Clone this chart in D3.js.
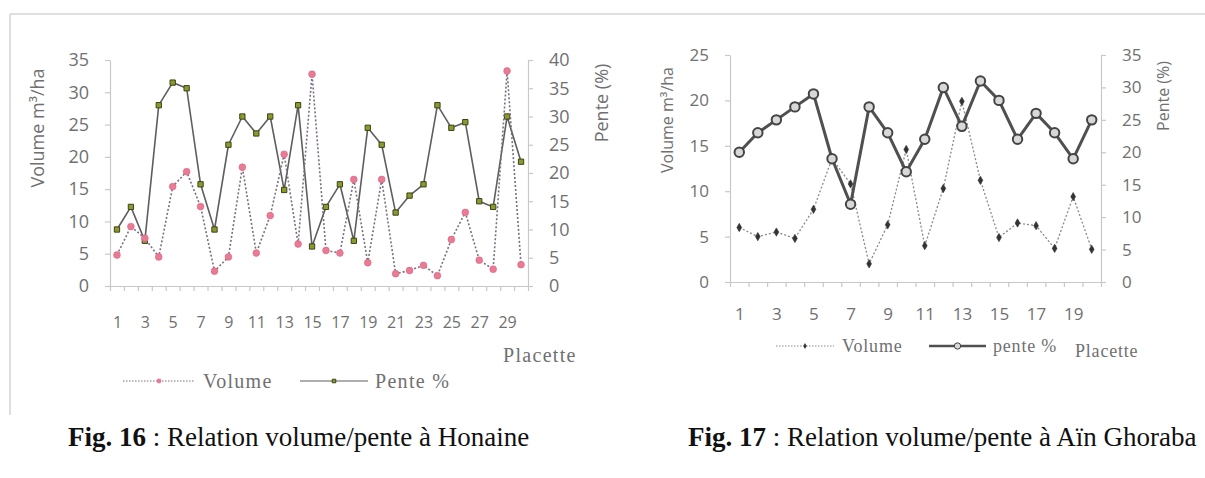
<!DOCTYPE html>
<html>
<head>
<meta charset="utf-8">
<script src="https://cdn.jsdelivr.net/npm/d3@7"></script>
<style>
  html, body { margin: 0; padding: 0; background: #fff; }
  svg { display: block; }
</style>
</head>
<body>
<svg id="chart" width="1205" height="478"></svg>
<script>
// ---------- Data ----------
// Fig. 16 – Honaine (30 placettes)
const honainePlacettes = d3.range(1, 31);
const honaineVolume = [4.8, 9.2, 7.4, 4.5, 15.4, 17.7, 12.3, 2.3, 4.5, 18.4,
                       5.1, 10.9, 20.4, 6.5, 32.8, 5.5, 5.1, 16.5, 3.6, 16.5,
                       1.9, 2.4, 3.2, 1.6, 7.2, 11.4, 4.0, 2.6, 33.3, 3.3];
const honainePente = [10, 14, 8, 32, 36, 35, 18, 10, 25, 30,
                      27, 30, 17, 32, 7, 14, 18, 8, 28, 25,
                      13, 16, 18, 32, 28, 29, 15, 14, 30, 22];
const honaineVolTicks = [0, 5, 10, 15, 20, 25, 30, 35];
const honainePenteTicks = [0, 5, 10, 15, 20, 25, 30, 35, 40];
const honaineXLabels = [1, 3, 5, 7, 9, 11, 13, 15, 17, 19, 21, 23, 25, 27, 29];

// Fig. 17 – Aïn Ghoraba (20 placettes)
const ghorabaPlacettes = d3.range(1, 21);
const ghorabaVolume = [6.0, 5.0, 5.5, 4.8, 8.0, 13.6, 10.8, 2.0, 6.3, 14.6,
                       4.0, 10.3, 19.9, 11.2, 4.9, 6.5, 6.2, 3.7, 9.4, 3.6];
const ghorabaPente = [20, 23, 25, 27, 29, 19, 12, 27, 23, 17,
                      22, 30, 24, 31, 28, 22, 26, 23, 19, 25];
const ghorabaVolTicks = [0, 5, 10, 15, 20, 25];
const ghorabaPenteTicks = [0, 5, 10, 15, 20, 25, 30, 35];
const ghorabaXLabels = [1, 3, 5, 7, 9, 11, 13, 15, 17, 19];

const svg = d3.select("#chart");

// faint page frame
svg.append("line").attr("x1", 10).attr("x2", 1205).attr("y1", 14).attr("y2", 14)
  .attr("stroke", "#d4d4d4").attr("stroke-width", 1.5);
svg.append("line").attr("x1", 10).attr("x2", 10).attr("y1", 14).attr("y2", 415)
  .attr("stroke", "#d4d4d4").attr("stroke-width", 1.5);

const tickFont = "'Open Sans', sans-serif";
const serif = "'Liberation Serif', 'Times New Roman', serif";
const axisGray = "#c8c8c8";
const textGray = "#707070";

function drawChart(cfg) {
  const g = svg.append("g");
  const n = cfg.placettes.length;
  const x = d3.scaleLinear().domain([0.5, n + 0.5]).range([cfg.x0, cfg.x1]);
  const yL = d3.scaleLinear().domain([0, d3.max(cfg.volTicks)]).range([cfg.yBottom, cfg.yTop]);
  const yR = d3.scaleLinear().domain([0, d3.max(cfg.penteTicks)]).range([cfg.yBottom, cfg.yTop]);

  // x axis: boundary ticks
  const xa = g.append("g").attr("transform", `translate(0,${cfg.yBottom})`)
    .call(d3.axisBottom(x).tickValues(d3.range(0.5, n + 1, 1)).tickFormat("").tickSize(5).tickSizeOuter(0));
  // x labels
  const xl = g.append("g").attr("transform", `translate(0,${cfg.yBottom})`)
    .call(d3.axisBottom(x).tickValues(cfg.xLabels).tickFormat(d3.format("d")).tickSize(0).tickPadding(cfg.xPad));
  xl.select(".domain").remove();
  xl.selectAll("text").attr("font-family", tickFont).attr("font-size", cfg.xFont).attr("fill", textGray);

  // left axis
  const la = g.append("g").attr("transform", `translate(${cfg.x0},0)`)
    .call(d3.axisLeft(yL).tickValues(cfg.volTicks).tickSize(5).tickSizeOuter(0).tickPadding(cfg.yPad));
  la.selectAll("text").attr("font-family", tickFont).attr("font-size", cfg.yFont).attr("fill", textGray);
  // right axis
  const ra = g.append("g").attr("transform", `translate(${cfg.x1},0)`)
    .call(d3.axisRight(yR).tickValues(cfg.penteTicks).tickSize(5).tickSizeOuter(0).tickPadding(cfg.yPad));
  ra.selectAll("text").attr("font-family", tickFont).attr("font-size", cfg.yFont).attr("fill", textGray);

  [xa, la, ra].forEach(a => {
    a.select(".domain").attr("stroke", axisGray).attr("stroke-width", 1.2);
    a.selectAll(".tick line").attr("stroke", axisGray).attr("stroke-width", 1.2);
  });

  // axis titles
  g.append("text")
    .attr("transform", `translate(${cfg.leftTitleX},${cfg.leftTitleY}) rotate(-90)`)
    .attr("text-anchor", "middle").attr("dominant-baseline", "central")
    .attr("font-family", tickFont).attr("font-size", cfg.titleFont).attr("fill", textGray)
    .text("Volume m³/ha");
  g.append("text")
    .attr("transform", `translate(${cfg.rightTitleX},${cfg.rightTitleY}) rotate(-90)`)
    .attr("text-anchor", "middle").attr("dominant-baseline", "central")
    .attr("font-family", tickFont).attr("font-size", cfg.titleFont).attr("fill", textGray)
    .text("Pente (%)");

  const vol = cfg.placettes.map((p, i) => ({ p, v: cfg.volume[i] }));
  const pen = cfg.placettes.map((p, i) => ({ p, v: cfg.pente[i] }));

  const lineL = d3.line().x(d => x(d.p)).y(d => yL(d.v));
  const lineR = d3.line().x(d => x(d.p)).y(d => yR(d.v));

  const drawVol = () => {
    g.append("path").datum(vol).attr("d", lineL).attr("fill", "none")
      .attr("stroke", cfg.volStroke).attr("stroke-width", cfg.volWidth).attr("stroke-dasharray", cfg.volDash);
    g.selectAll(null).data(vol).join("path")
      .attr("transform", d => `translate(${x(d.p)},${yL(d.v)})`)
      .attr("d", d3.symbol().type(cfg.volSymbol).size(cfg.volSymSize))
      .attr("fill", cfg.volMarker).attr("stroke", cfg.volMarkerStroke).attr("stroke-width", 0.6);
  };
  const drawPen = () => {
    g.append("path").datum(pen).attr("d", lineR).attr("fill", "none")
      .attr("stroke", cfg.penStroke).attr("stroke-width", cfg.penWidth).attr("stroke-linejoin", "round");
    g.selectAll(null).data(pen).join("path")
      .attr("transform", d => `translate(${x(d.p)},${yR(d.v)})`)
      .attr("d", d3.symbol().type(cfg.penSymbol).size(cfg.penSymSize))
      .attr("fill", cfg.penMarker).attr("stroke", cfg.penMarkerStroke).attr("stroke-width", cfg.penMarkerStrokeW);
  };
  if (cfg.volFirst) { drawVol(); drawPen(); } else { drawPen(); drawVol(); }

  // "Placette"
  g.append("text").attr("x", cfg.placetteX).attr("y", cfg.placetteY)
    .attr("font-family", serif).attr("font-size", cfg.legendFont).attr("fill", textGray)
    .attr("letter-spacing", cfg.legendSpacing).text("Placette");

  // legend
  const lg = g.append("g");
  const ly = cfg.legendY;
  lg.append("line").attr("x1", cfg.lgVol[0]).attr("x2", cfg.lgVol[1]).attr("y1", ly).attr("y2", ly)
    .attr("stroke", cfg.volStroke).attr("stroke-width", 1).attr("stroke-dasharray", "1.5,1.5");
  lg.append("path").attr("transform", `translate(${(cfg.lgVol[0] + cfg.lgVol[1]) / 2},${ly})`)
    .attr("d", d3.symbol().type(cfg.volSymbol).size(cfg.volSymSize * 0.5)).attr("fill", cfg.volMarker);
  lg.append("text").attr("x", cfg.lgVol[1] + 8).attr("y", ly).attr("dominant-baseline", "central")
    .attr("font-family", serif).attr("font-size", cfg.legendFont).attr("fill", textGray)
    .attr("letter-spacing", cfg.legendSpacing).text("Volume");
  lg.append("line").attr("x1", cfg.lgPen[0]).attr("x2", cfg.lgPen[1]).attr("y1", ly).attr("y2", ly)
    .attr("stroke", cfg.penStroke).attr("stroke-width", cfg.lgPenWidth);
  lg.append("path").attr("transform", `translate(${(cfg.lgPen[0] + cfg.lgPen[1]) / 2},${ly})`)
    .attr("d", d3.symbol().type(cfg.penSymbol).size(cfg.penSymSize * 0.45))
    .attr("fill", cfg.penMarker).attr("stroke", cfg.penMarkerStroke).attr("stroke-width", 1);
  lg.append("text").attr("x", cfg.lgPen[1] + 7).attr("y", ly).attr("dominant-baseline", "central")
    .attr("font-family", serif).attr("font-size", cfg.legendFont).attr("fill", textGray)
    .attr("letter-spacing", cfg.legendSpacing).text(cfg.penLabel);

  // caption
  const cap = g.append("text").attr("x", cfg.capX).attr("y", cfg.capY)
    .attr("font-family", serif).attr("font-size", 27).attr("fill", "#111");
  cap.append("tspan").attr("font-weight", "bold").text(cfg.capBold);
  cap.append("tspan").text(cfg.capRest);
}

drawChart({
  placettes: honainePlacettes, volume: honaineVolume, pente: honainePente,
  volTicks: honaineVolTicks, penteTicks: honainePenteTicks, xLabels: honaineXLabels,
  x0: 110, x1: 528, yTop: 60, yBottom: 286,
  xFont: 16, xPad: 31, yFont: 18, yPad: 16, titleFont: 18,
  leftTitleX: 37, leftTitleY: 128, rightTitleX: 601, rightTitleY: 103,
  volStroke: "#7a6f80", volWidth: 1.6, volDash: "2,2",
  volSymbol: d3.symbolCircle, volSymSize: 36, volMarker: "#ea7b94", volMarkerStroke: "#e0607e",
  penStroke: "#5e5e5e", penWidth: 1.6,
  penSymbol: d3.symbolSquare, penSymSize: 28, penMarker: "#8c9a2c", penMarkerStroke: "#3d4218", penMarkerStrokeW: 1,
  volFirst: false,
  placetteX: 503, placetteY: 362, legendFont: 20, legendSpacing: 1.3, legendY: 381,
  lgVol: [123, 195], lgPen: [300, 368], lgPenWidth: 1.2, penLabel: "Pente %",
  capX: 68, capY: 446, capBold: "Fig. 16", capRest: " : Relation volume/pente à Honaine"
});

drawChart({
  placettes: ghorabaPlacettes, volume: ghorabaVolume, pente: ghorabaPente,
  volTicks: ghorabaVolTicks, penteTicks: ghorabaPenteTicks, xLabels: ghorabaXLabels,
  x0: 730, x1: 1101, yTop: 55, yBottom: 282,
  xFont: 17, xPad: 26, yFont: 17, yPad: 16, titleFont: 16,
  leftTitleX: 667, leftTitleY: 120, rightTitleX: 1163, rightTitleY: 96,
  volStroke: "#8a8a8a", volWidth: 1.3, volDash: "2,2",
  volSymbol: d3.symbolDiamond, volSymSize: 20, volMarker: "#333333", volMarkerStroke: "#333333",
  penStroke: "#505050", penWidth: 3,
  penSymbol: d3.symbolCircle, penSymSize: 70, penMarker: "#d8d8d8", penMarkerStroke: "#444444", penMarkerStrokeW: 2,
  volFirst: true,
  placetteX: 1075, placetteY: 357, legendFont: 18, legendSpacing: 0.8, legendY: 346,
  lgVol: [776, 834], lgPen: [929, 986], lgPenWidth: 2.5, penLabel: "pente %",
  capX: 688, capY: 446, capBold: "Fig. 17", capRest: " : Relation volume/pente à Aïn Ghoraba"
});
</script>
</body>
</html>
